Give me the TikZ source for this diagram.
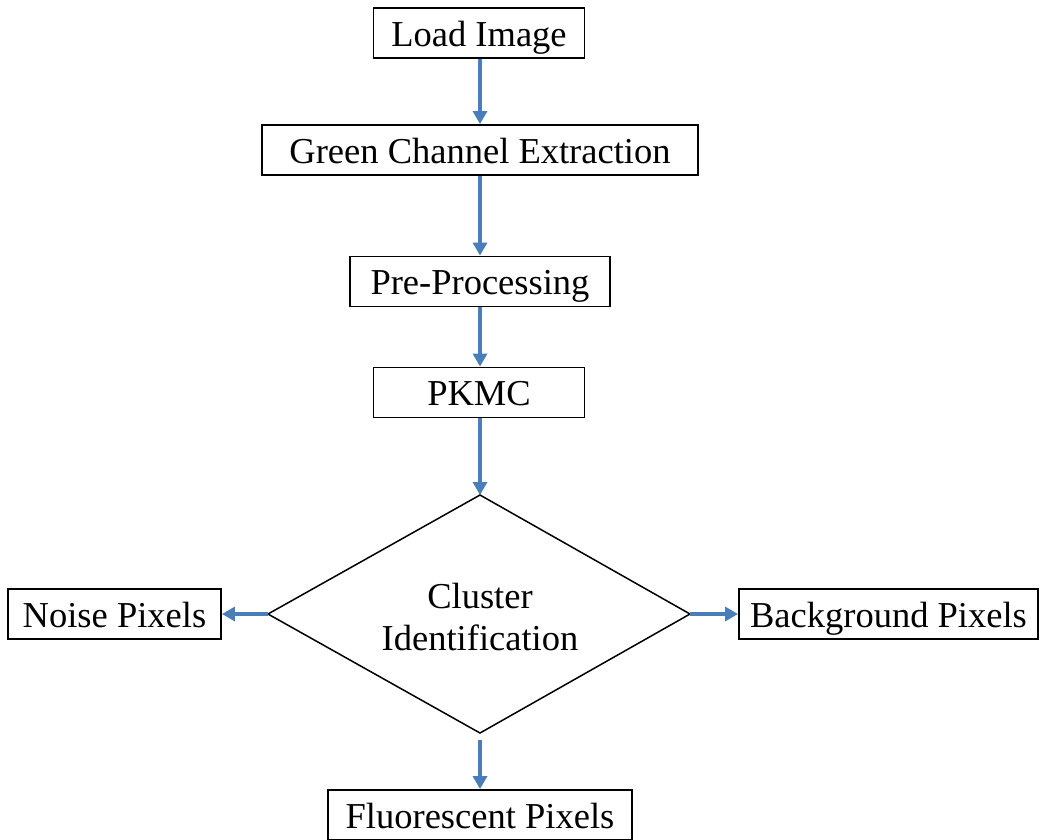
\documentclass[tikz,border=0pt]{standalone}
\usepackage{fontspec}
\setmainfont{Liberation Serif}
\usetikzlibrary{arrows.meta}
\definecolor{arrowblue}{HTML}{4A7EBB}
\tikzset{
  box/.style={draw=black, line width=1.9pt, inner sep=0pt, minimum height=50pt, text height=26pt, text depth=-2pt, font=\fontsize{36.5}{42}\selectfont, align=center},
  decisionline/.style={draw=black, line width=1.5pt, line join=miter},
  decisiontext/.style={inner sep=0pt, font=\fontsize{36.5}{42}\selectfont, align=center},
  flow/.style={draw=arrowblue, line width=3.6pt, -{Triangle[width=14pt,length=13pt]}}
}
\begin{document}
\begin{tikzpicture}[x=1pt,y=-1pt]
\useasboundingbox (0,0) rectangle (1040,839);
\node[box, minimum width=211pt] (load) at (479,33) {Load Image};
\node[box, minimum width=436pt] (green) at (480,150) {Green Channel Extraction};
\node[box, minimum width=260pt] (pre) at (480,281.5) {Pre-Processing};
\node[box, minimum width=211pt] (pkmc) at (479,392.5) {PKMC};
\coordinate (dtop) at (480,495);
\coordinate (dleft) at (268,614);
\coordinate (dright) at (690,614);
\coordinate (dbottom) at (480,733);
\draw[decisionline] (dtop) -- (dright) -- (dbottom) -- (dleft) -- cycle;
\node[decisiontext] (cluster) at (480,617) {Cluster\\Identification};
\node[box, minimum width=213pt] (noise) at (114.5,614) {Noise Pixels};
\node[box, minimum width=299pt] (back) at (888.5,614) {Background Pixels};
\node[box, minimum width=304pt] (fluo) at (480,815) {Fluorescent Pixels};
\draw[flow] (load.south -| 480,0) -- (green.north);
\draw[flow] (green.south) -- (pre.north);
\draw[flow] (pre.south) -- (pkmc.north -| 480,0);
\draw[flow] (pkmc.south -| 480,0) -- (dtop);
\draw[flow] (dleft) -- (noise.east);
\draw[flow] (dright) -- (back.west);
\draw[flow, shorten <=7pt] (dbottom) -- (fluo.north);
\end{tikzpicture}
\end{document}
